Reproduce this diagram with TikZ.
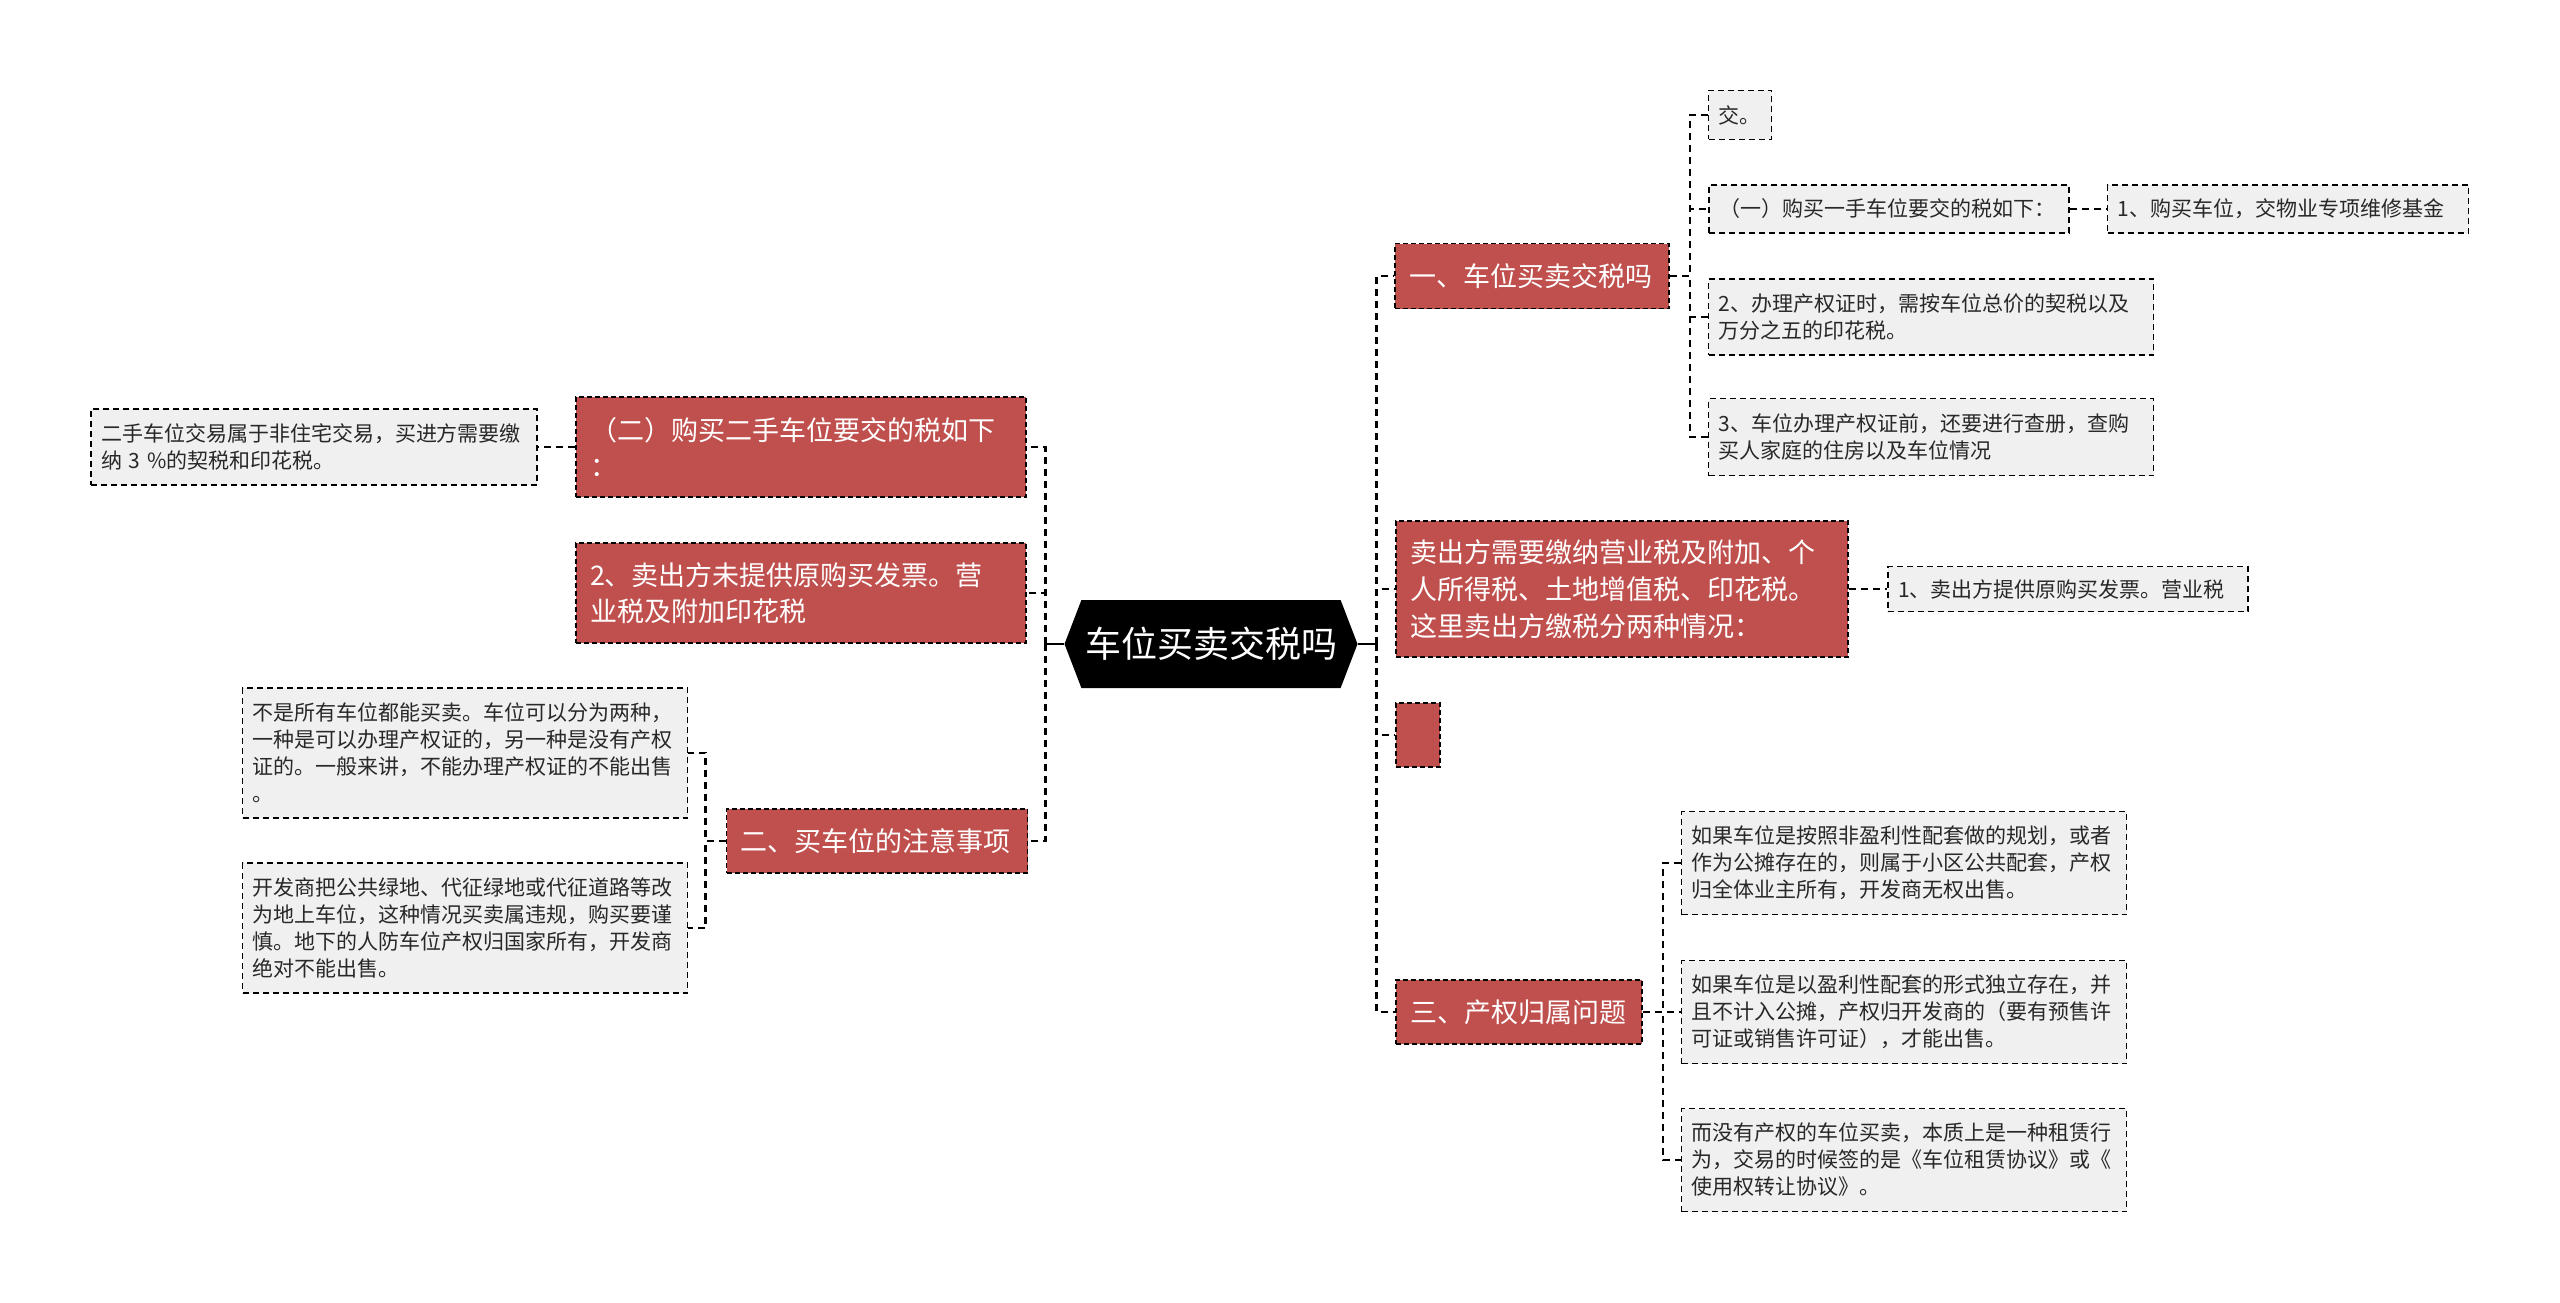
\documentclass[tikz,border=0pt]{standalone}
\usepackage{fontspec}
\setmainfont{Noto Sans CJK SC}
\usepackage{tikz}
\usetikzlibrary{shapes.symbols}
\definecolor{topicred}{RGB}{192,80,77}
\definecolor{leafgray}{RGB}{240,240,240}
\definecolor{leaftext}{RGB}{40,40,40}

\begin{document}
\begin{tikzpicture}[
    x=1pt,y=-1pt,
    root/.style={shape=signal,signal to=west and east,signal pointer angle=138,fill=black,text=white,minimum width=293pt,minimum height=88pt,inner sep=0pt,font=\fontsize{36pt}{40pt}\selectfont},
    topic/.style={draw,dash pattern=on 5pt off 3pt,line width=1.6pt,fill=topicred,text=white,align=left,inner xsep=14pt,inner ysep=0pt,font=\fontsize{27pt}{37pt}\selectfont},
    leaf/.style={draw,dash pattern=on 6pt off 4pt,line width=1.8pt,fill=leafgray,text=leaftext,align=left,inner xsep=10pt,inner ysep=0pt,font=\fontsize{21pt}{27pt}\selectfont},
    link/.style={draw,dash pattern=on 7pt off 5pt,line width=2.5pt},
    stub/.style={draw,line width=2.5pt}
]
    \useasboundingbox[fill=white] (0,0) rectangle (2560,1303);
    % Centre
    \node[root] (root) at (1211,644) {车位买卖交税吗};
    % Right side: branches
    \node[topic,text width=246pt,minimum height=65pt] (b1) at (1532,276) {一、车位买卖交税吗};
    \node[topic,text width=424pt,minimum height=136pt] (b2) at (1622,589) {卖出方需要缴纳营业税及附加、个\\人所得税、土地增值税、印花税。\\这里卖出方缴税分两种情况：};
    \node[topic,inner xsep=0pt,minimum width=44pt,minimum height=64pt] (b3) at (1418,735) {};
    \node[topic,text width=218pt,minimum height=64pt] (b4) at (1519,1012) {三、产权归属问题};
    % Right side: leaves
    \node[leaf,text width=43pt,minimum height=49pt] (c11) at (1740,115) {交。};
    \node[leaf,text width=340pt,minimum height=48pt] (c12) at (1889,209) {（一）购买一手车位要交的税如下：};
    \node[leaf,text width=341pt,minimum height=48pt] (c121) at (2288,209) {1、购买车位，交物业专项维修基金};
    \node[leaf,text width=425pt,minimum height=76pt] (c13) at (1931,317) {2、办理产权证时，需按车位总价的契税以及\\万分之五的印花税。};
    \node[leaf,text width=425pt,minimum height=77pt] (c14) at (1931,437) {3、车位办理产权证前，还要进行查册，查购\\买人家庭的住房以及车位情况};
    \node[leaf,text width=340pt,minimum height=45pt] (c21) at (2068,589) {1、卖出方提供原购买发票。营业税};
    \node[leaf,text width=425pt,minimum height=103pt] (c41) at (1904,863) {如果车位是按照非盈利性配套做的规划，或者\\作为公摊存在的，则属于小区公共配套，产权\\归全体业主所有，开发商无权出售。};
    \node[leaf,text width=425pt,minimum height=103pt] (c42) at (1904,1012) {如果车位是以盈利性配套的形式独立存在，并\\且不计入公摊，产权归开发商的（要有预售许\\可证或销售许可证），才能出售。};
    \node[leaf,text width=425pt,minimum height=103pt] (c43) at (1904,1160) {而没有产权的车位买卖，本质上是一种租赁行\\为，交易的时候签的是《车位租赁协议》或《\\使用权转让协议》。};
    % Left side: branches
    \node[topic,text width=422pt,minimum height=100pt,font=\fontsize{27pt}{36pt}\selectfont] (l1) at (801,447) {（二）购买二手车位要交的税如下\\：};
    \node[topic,text width=422pt,minimum height=100pt,font=\fontsize{27pt}{36pt}\selectfont] (l2) at (801,593) {2、卖出方未提供原购买发票。营\\业税及附加印花税};
    \node[topic,text width=273pt,minimum height=64pt] (l3) at (877,841) {二、买车位的注意事项};
    % Left side: leaves
    \node[leaf,text width=426pt,minimum height=76pt] (l11) at (314,447) {二手车位交易属于非住宅交易，买进方需要缴\\纳 3 \%的契税和印花税。};
    \node[leaf,text width=425pt,minimum height=130pt] (l31) at (465,753) {不是所有车位都能买卖。车位可以分为两种，\\一种是可以办理产权证的，另一种是没有产权\\证的。一般来讲，不能办理产权证的不能出售\\。};
    \node[leaf,text width=425pt,minimum height=130pt] (l32) at (465,928) {开发商把公共绿地、代征绿地或代征道路等改\\为地上车位，这种情况买卖属违规，购买要谨\\慎。地下的人防车位产权归国家所有，开发商\\绝对不能出售。};
    % Connectors
    \coordinate (rt) at ([xshift=19pt]root.east);
    \coordinate (lt) at ([xshift=-19pt]root.west);
    \draw[stub] (root.east) -- (rt);
    \draw[stub] (root.west) -- (lt);
    \foreach \b in {b1,b2,b3,b4} \draw[link] (rt) |- (\b.west);
    \foreach \b in {l1,l2,l3} \draw[link] (lt) |- (\b.east);
    \foreach \c in {c11,c12,c13,c14} \draw[link] (b1.east) -- ++(20,0) |- (\c.west);
    \draw[link] (c12.east) -- (c121.west);
    \draw[link] (b2.east) -- (c21.west);
    \foreach \c in {c41,c42,c43} \draw[link] (b4.east) -- ++(20,0) |- (\c.west);
    \draw[link] (l1.west) -- (l11.east);
    \foreach \c in {l31,l32} \draw[link] (l3.west) -- ++(-20,0) |- (\c.east);
\end{tikzpicture}
\end{document}
